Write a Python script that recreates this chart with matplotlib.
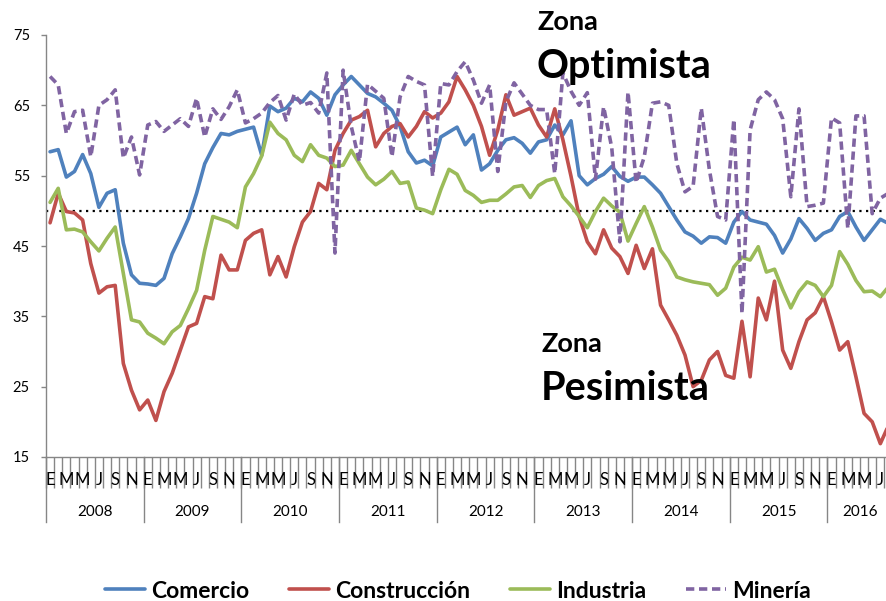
import matplotlib
matplotlib.use("Agg")
import matplotlib.pyplot as plt
import numpy as np

plt.rcParams['font.family'] = ['Lato', 'DejaVu Sans']

# ---- data: monthly index values, Jan 2008 .. Aug 2016 ----
comercio = [58.4, 58.7, 54.8, 55.6, 58.0, 55.3, 50.5, 52.5, 53.0, 45.4, 40.9, 39.7,
            39.6, 39.4, 40.4, 43.9, 46.3, 48.9, 52.5, 56.7, 59.0, 61.0, 60.8, 61.3,
            61.6, 61.9, 57.9, 64.9, 64.1, 64.6, 66.0, 65.5, 66.9, 66.0, 63.6, 66.5,
            67.9, 69.1, 67.9, 66.7, 66.2, 65.3, 64.3, 62.0, 58.4, 56.8, 57.2, 56.4,
            60.5, 61.2, 61.9, 59.4, 60.8, 55.8, 56.7, 58.6, 60.1, 60.4, 59.6, 58.2,
            59.8, 60.1, 62.2, 60.8, 62.8, 55.0, 53.7, 54.6, 55.2, 56.3, 54.9, 54.2,
            54.8, 54.8, 53.7, 52.5, 50.6, 48.7, 47.0, 46.4, 45.4, 46.3, 46.2, 45.4,
            48.4, 49.9, 48.7, 48.4, 48.1, 46.5, 44.0, 46.0, 48.9, 47.5, 45.8, 46.8,
            47.3, 49.2, 49.9, 47.7, 45.8, 47.3, 48.8, 48.2]
construccion = [48.3, 52.5, 49.9, 49.7, 48.7, 42.5, 38.3, 39.2, 39.4, 28.3, 24.5, 21.7,
                23.1, 20.2, 24.3, 26.9, 30.2, 33.5, 34.0, 37.8, 37.5, 43.7, 41.6, 41.6,
                45.8, 46.8, 47.3, 40.9, 43.5, 40.6, 44.9, 48.4, 49.9, 53.9, 53.0, 58.6,
                61.0, 62.9, 63.4, 64.3, 59.1, 61.0, 62.0, 62.4, 60.5, 62.0, 64.1, 63.2,
                63.9, 65.5, 69.1, 67.2, 65.0, 62.0, 57.9, 61.5, 66.5, 63.6, 64.1, 64.6,
                62.2, 60.5, 64.5, 60.1, 54.9, 49.2, 45.6, 43.9, 47.3, 44.7, 43.5, 41.1,
                45.1, 41.8, 44.6, 36.6, 34.5, 32.3, 29.5, 25.0, 25.9, 28.8, 30.0, 26.6,
                26.2, 34.3, 26.4, 37.6, 34.5, 40.0, 30.2, 27.6, 31.4, 34.5, 35.5, 37.8,
                34.2, 30.2, 31.4, 26.4, 21.2, 20.0, 16.9, 19.5]
industria = [51.2, 53.2, 47.3, 47.4, 47.0, 45.6, 44.3, 46.1, 47.7, 41.1, 34.5, 34.2,
             32.6, 31.9, 31.1, 32.8, 33.7, 36.1, 38.7, 44.4, 49.2, 48.8, 48.4, 47.6,
             53.4, 55.3, 57.8, 62.6, 61.0, 60.1, 57.9, 57.0, 59.4, 57.9, 57.5, 56.3,
             56.5, 58.6, 56.7, 54.8, 53.7, 54.5, 55.6, 53.9, 54.1, 50.4, 50.1, 49.6,
             53.0, 55.9, 55.2, 52.9, 52.2, 51.2, 51.5, 51.5, 52.4, 53.4, 53.6, 51.9,
             53.6, 54.3, 54.6, 52.0, 50.7, 49.2, 47.6, 49.9, 51.8, 50.7, 49.8, 45.7,
             48.2, 50.6, 47.7, 44.4, 42.8, 40.6, 40.2, 39.9, 39.7, 39.5, 38.0, 39.0,
             42.0, 43.4, 43.0, 44.9, 41.3, 41.7, 38.8, 36.2, 38.5, 39.9, 39.4, 37.8,
             39.4, 44.2, 42.4, 40.1, 38.5, 38.6, 37.8, 39.2]
mineria = [69.1, 67.9, 61.0, 64.1, 64.3, 57.7, 65.0, 65.8, 67.2, 57.5, 60.5, 55.1,
           62.2, 62.7, 61.3, 62.2, 63.1, 62.0, 66.0, 60.5, 64.5, 63.0, 64.8, 67.2,
           62.5, 63.1, 63.9, 65.4, 66.4, 62.9, 66.6, 65.0, 65.4, 63.9, 69.6, 44.0,
           70.0, 62.0, 57.0, 68.0, 67.0, 66.0, 57.7, 66.2, 69.1, 68.4, 67.9, 54.9,
           68.1, 67.9, 69.8, 71.2, 68.6, 65.3, 67.9, 55.6, 65.5, 68.2, 66.6, 65.0,
           64.4, 64.4, 55.3, 69.6, 67.0, 65.0, 66.8, 54.5, 64.8, 59.0, 45.6, 66.9,
           54.0, 57.7, 65.3, 65.5, 65.0, 56.7, 52.7, 53.5, 64.6, 55.8, 49.2, 48.7,
           63.0, 35.4, 61.5, 65.8, 66.9, 65.8, 63.1, 52.0, 64.5, 50.6, 50.8, 51.1,
           63.2, 62.5, 47.5, 63.5, 63.5, 49.6, 51.8, 52.5]

years = ['2008', '2009', '2010', '2011', '2012', '2013', '2014', '2015', '2016']
month_letters = ['E', 'M', 'M', 'J', 'S', 'N']   # Ene, Mar, May, Jul, Sep, Nov
yticks = [15, 25, 35, 45, 55, 65, 75]
threshold = 50

series = [("Comercio", comercio, '#4F81BD', '-'),
          ("Construcción", construccion, '#C0504D', '-'),
          ("Industria", industria, '#9BBB59', '-'),
          ("Minería", mineria, '#8064A2', (0, (2.3, 1.3)))]

W, H = 886, 601
fig = plt.figure(figsize=(W / 100, H / 100), dpi=100)
n = len(comercio)
cw = 8.14  # px per month
ax = fig.add_axes([46 / W, (H - 457) / H, n * cw / W, 422 / H])
ax.set_xlim(-0.5, n - 0.5)
ax.set_ylim(15, 75)

x = np.arange(n)
handles = []
for name, vals, col, ls in series:
    h, = ax.plot(x, vals, color=col, lw=2.6, ls=ls, solid_joinstyle='round',
                 solid_capstyle='round', dash_capstyle='butt', label=name, clip_on=True)
    handles.append(h)

ax.axhline(threshold, color='black', lw=1.6, ls=(0, (1, 2)), zorder=1)

gray = '#868686'
for s in ['top', 'right']:
    ax.spines[s].set_visible(False)
for s in ['left', 'bottom']:
    ax.spines[s].set_color(gray)
    ax.spines[s].set_linewidth(1.0)

ax.set_yticks(yticks)
ax.set_yticklabels([str(v) for v in yticks], fontsize=10.5)
ax.tick_params(axis='y', which='major', length=3.6, width=1.0, color=gray, pad=8)

ax.set_xticks([])
ax.set_xticks(np.arange(-0.5, n, 1), minor=True)
ax.tick_params(axis='x', which='minor', length=22.3, width=1.0, color=gray, direction='out')

trans = ax.get_xaxis_transform()
ax_h = 422
for i in range(n):
    if i % 2 == 0 and i < n - 1:
        ax.text(i, -23 / ax_h, month_letters[(i % 12) // 2], transform=trans,
                ha='center', va='center', fontsize=12, clip_on=False)

for k, yr in enumerate(years):
    start = 12 * k - 0.5
    end = min(12 * k + 11.5, n - 0.5)
    ax.plot([start, start], [0, -65 / ax_h], transform=trans, color=gray, lw=1.0,
            clip_on=False)
    ax.text((start + end) / 2, -55 / ax_h, yr, transform=trans, ha='center',
            va='center', fontsize=11, clip_on=False)

# zone annotations
fig.text(537 / W, 1 - 30 / H, "Zona", fontsize=19.5, fontweight='bold', ha='left', va='baseline')
fig.text(536 / W, 1 - 78 / H, "Optimista", fontsize=28.5, fontweight='bold', ha='left', va='baseline')
fig.text(542 / W, 1 - 352 / H, "Zona", fontsize=19.5, fontweight='bold', ha='left', va='baseline')
fig.text(541 / W, 1 - 400 / H, "Pesimista", fontsize=28.5, fontweight='bold', ha='left', va='baseline')

fig.legend(handles=handles, loc='center', bbox_to_anchor=(458 / W, 1 - 591 / H), ncol=4,
           frameon=False, prop={'size': 16.5, 'weight': 'bold'}, handlelength=1.75,
           handletextpad=0.25, columnspacing=1.75)

fig.savefig("out.png", dpi=100)
